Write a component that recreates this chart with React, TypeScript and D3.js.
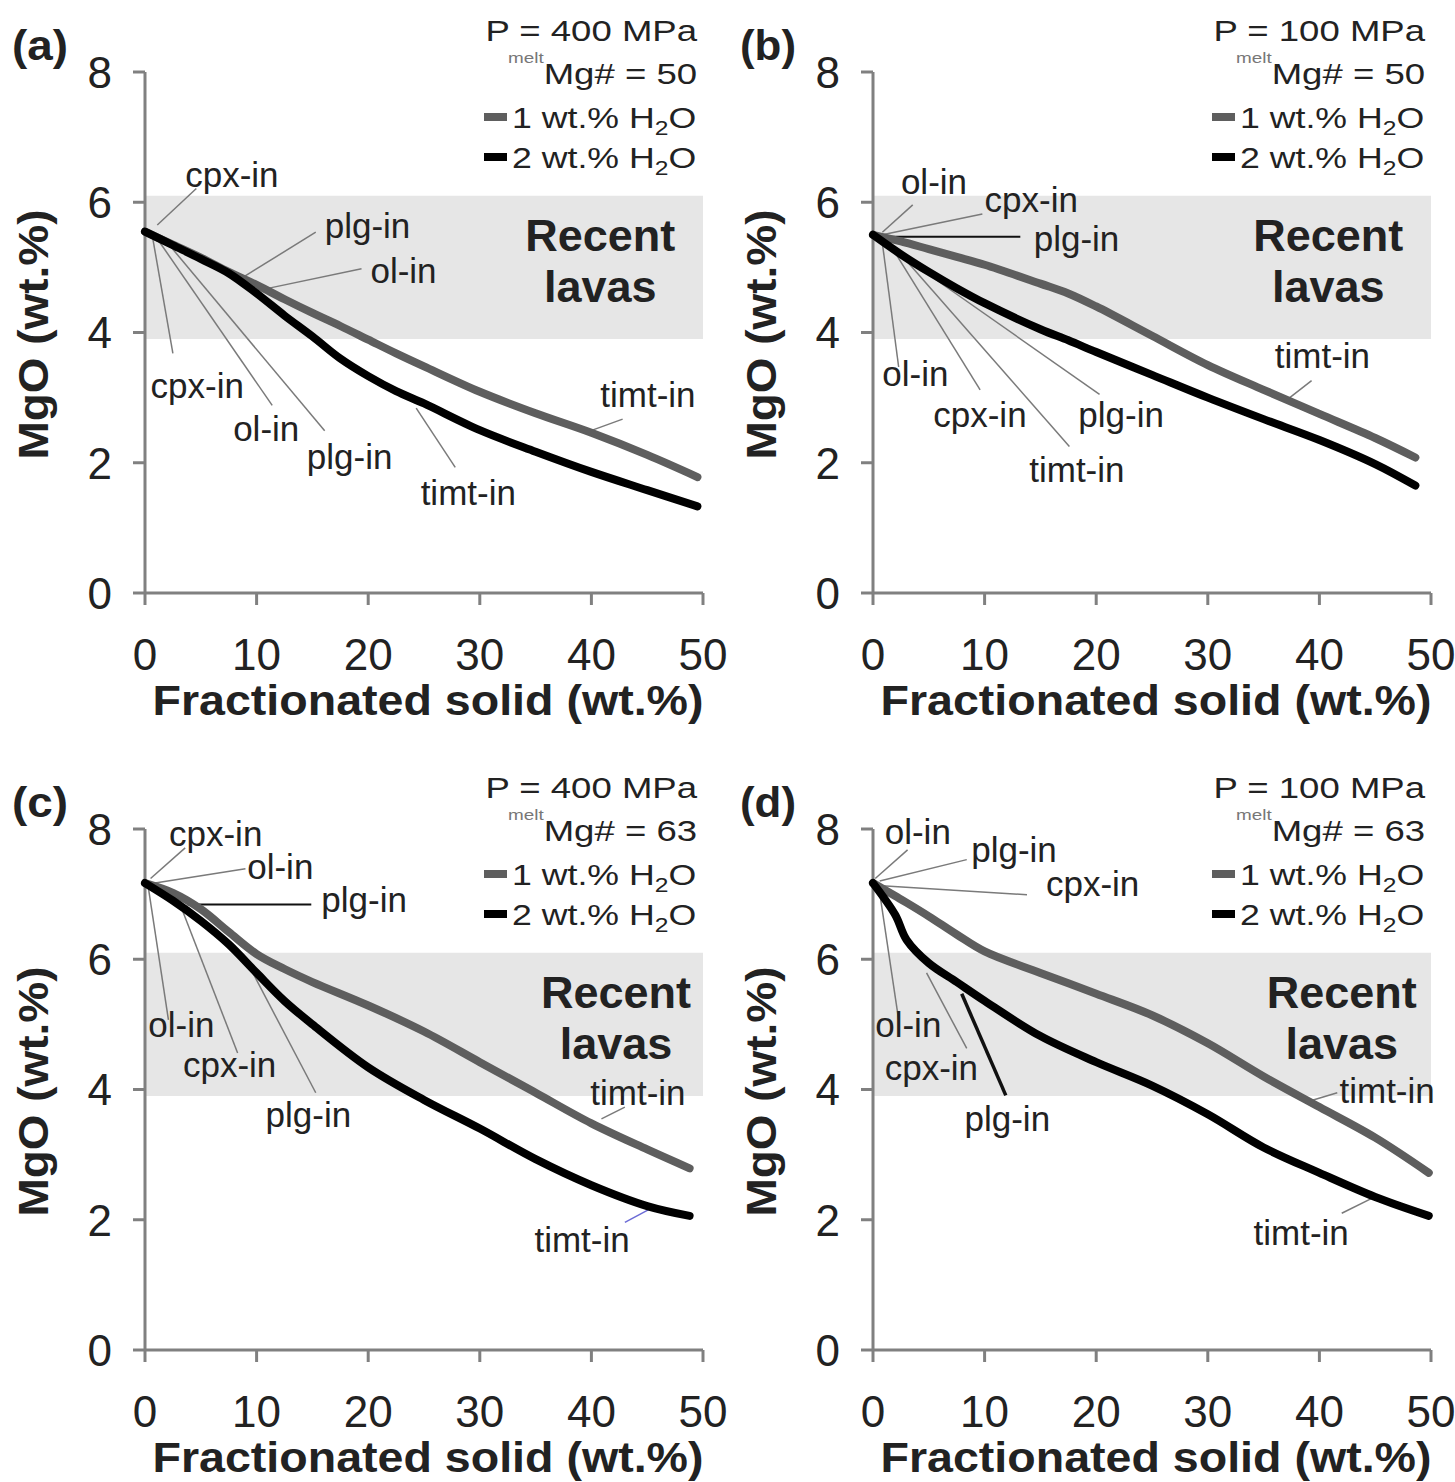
import React from "react";
import * as d3 from "d3";

// MgO (wt.%) vs fractionated solid (wt.%)
const xA = [0, 2.5, 5, 7.5, 10, 12.5, 15, 17.5, 20, 22.5, 25, 30, 35, 40, 45, 49.5];
const grayA = [5.55, 5.35, 5.15, 4.93, 4.73, 4.51, 4.3, 4.1, 3.89, 3.68, 3.48, 3.09, 2.76, 2.46, 2.12, 1.78];
const blackA = [5.55, 5.34, 5.13, 4.91, 4.6, 4.26, 3.94, 3.6, 3.33, 3.1, 2.91, 2.5, 2.17, 1.86, 1.58, 1.33];

const xB = [0, 2.5, 5, 7.5, 10, 15, 17.5, 20, 25, 30, 35, 40, 45, 48.6];
const grayB = [5.5, 5.4, 5.28, 5.16, 5.04, 4.75, 4.6, 4.4, 3.95, 3.5, 3.12, 2.75, 2.38, 2.08];
const blackB = [5.5, 5.2, 4.93, 4.68, 4.45, 4.05, 3.88, 3.7, 3.35, 3.0, 2.67, 2.35, 1.98, 1.65];

const xC = [0, 2.5, 5, 7.5, 10, 12.5, 15, 20, 25, 30, 35, 40, 45, 48.8];
const grayC = [7.17, 7.02, 6.77, 6.42, 6.08, 5.85, 5.65, 5.29, 4.89, 4.42, 3.95, 3.48, 3.08, 2.79];
const blackC = [7.17, 6.9, 6.59, 6.23, 5.79, 5.36, 5.0, 4.34, 3.84, 3.4, 2.93, 2.53, 2.21, 2.06];

const xD = [0, 2, 3, 5, 7.5, 10, 15, 20, 25, 30, 35, 40, 45, 49.8];
const grayD = [7.17, 6.97, 6.87, 6.66, 6.38, 6.12, 5.79, 5.47, 5.14, 4.71, 4.2, 3.73, 3.26, 2.72];
const blackD = [7.17, 6.68, 6.3, 5.94, 5.65, 5.36, 4.82, 4.42, 4.06, 3.62, 3.11, 2.72, 2.35, 2.06];

const xTicks = [0, 10, 20, 30, 40, 50];
const yTicks = [0, 2, 4, 6, 8];
const panelIds = ["(a)", "(b)", "(c)", "(d)"];
const pressures = ["400", "100", "400", "100"];
const mgNumbers = ["50", "50", "63", "63"];
const lavaBand = [3.9, 6.1];
const lavaX = [40.8, 40.8, 42.2, 42];

// phase-in labels: text position and leader line, in data units
const notesA = [
  { t: "cpx-in", tx: 3.6, ty: 6.42, x1: 1.1, y1: 5.65, x2: 4.6, y2: 6.21, k: "g" },
  { t: "plg-in", tx: 16.1, ty: 5.65, x1: 8.7, y1: 4.84, x2: 15.3, y2: 5.54, k: "g" },
  { t: "ol-in", tx: 20.2, ty: 4.95, x1: 10.8, y1: 4.67, x2: 19.4, y2: 4.98, k: "g" },
  { t: "timt-in", tx: 40.8, ty: 3.05, x1: 39.9, y1: 2.49, x2: 42.8, y2: 2.67, k: "g" },
  { t: "cpx-in", tx: 0.5, ty: 3.19, x1: 0.7, y1: 5.44, x2: 2.5, y2: 3.68, k: "g" },
  { t: "ol-in", tx: 7.9, ty: 2.53, x1: 1.1, y1: 5.44, x2: 11.4, y2: 2.88, k: "g" },
  { t: "plg-in", tx: 14.5, ty: 2.1, x1: 1.9, y1: 5.4, x2: 16.1, y2: 2.49, k: "g" },
  { t: "timt-in", tx: 24.7, ty: 1.54, x1: 24.3, y1: 2.84, x2: 27.8, y2: 1.93, k: "g" },
];
const notesB = [
  { t: "ol-in", tx: 2.5, ty: 6.32, x1: 0.84, y1: 5.54, x2: 3.56, y2: 5.96, k: "g" },
  { t: "cpx-in", tx: 10.0, ty: 6.04, x1: 0.84, y1: 5.5, x2: 9.8, y2: 5.82, k: "g" },
  { t: "plg-in", tx: 14.4, ty: 5.44, x1: 1.05, y1: 5.47, x2: 13.2, y2: 5.47, k: "b" },
  { t: "timt-in", tx: 36, ty: 3.65, x1: 37.2, y1: 2.98, x2: 39.3, y2: 3.26, k: "g" },
  { t: "ol-in", tx: 0.84, ty: 3.37, x1: 0.84, y1: 5.37, x2: 2.3, y2: 3.47, k: "g" },
  { t: "cpx-in", tx: 5.4, ty: 2.74, x1: 1.46, y1: 5.37, x2: 9.6, y2: 3.12, k: "g" },
  { t: "plg-in", tx: 18.4, ty: 2.74, x1: 5.65, y1: 4.81, x2: 20.3, y2: 3.05, k: "g" },
  { t: "timt-in", tx: 14.0, ty: 1.9, x1: 2.7, y1: 5.16, x2: 17.6, y2: 2.25, k: "g" },
];
const notesC = [
  { t: "cpx-in", tx: 2.15, ty: 7.93, x1: 0.5, y1: 7.24, x2: 3.6, y2: 7.71, k: "g" },
  { t: "ol-in", tx: 9.16, ty: 7.42, x1: 0.9, y1: 7.17, x2: 9.0, y2: 7.39, k: "g" },
  { t: "plg-in", tx: 15.8, ty: 6.92, x1: 3.8, y1: 6.84, x2: 14.9, y2: 6.84, k: "b" },
  { t: "ol-in", tx: 0.3, ty: 5.0, x1: 0.3, y1: 7.1, x2: 2.1, y2: 5.07, k: "g" },
  { t: "cpx-in", tx: 3.4, ty: 4.38, x1: 3.4, y1: 6.73, x2: 8.3, y2: 4.56, k: "g" },
  { t: "plg-in", tx: 10.8, ty: 3.62, x1: 9.2, y1: 5.94, x2: 15.3, y2: 3.95, k: "g" },
  { t: "timt-in", tx: 39.9, ty: 3.95, x1: 40.9, y1: 3.55, x2: 43.0, y2: 3.73, k: "g" },
  { t: "timt-in", tx: 34.9, ty: 1.7, x1: 43, y1: 1.96, x2: 45.3, y2: 2.17, k: "u" },
];
const notesD = [
  { t: "ol-in", tx: 1.05, ty: 7.97, x1: 0.2, y1: 7.24, x2: 3.1, y2: 7.68, k: "g" },
  { t: "plg-in", tx: 8.8, ty: 7.68, x1: 0.6, y1: 7.2, x2: 8.4, y2: 7.53, k: "g" },
  { t: "cpx-in", tx: 15.5, ty: 7.17, x1: 0.8, y1: 7.13, x2: 13.8, y2: 6.99, k: "g" },
  { t: "ol-in", tx: 0.2, ty: 5.0, x1: 0.6, y1: 7.02, x2: 2.3, y2: 5.07, k: "g" },
  { t: "cpx-in", tx: 1.05, ty: 4.34, x1: 4.8, y1: 5.79, x2: 8.4, y2: 4.63, k: "g" },
  { t: "plg-in", tx: 8.2, ty: 3.55, x1: 7.95, y1: 5.47, x2: 11.9, y2: 3.91, k: "t" },
  { t: "timt-in", tx: 41.8, ty: 3.98, x1: 38.7, y1: 3.8, x2: 41.6, y2: 3.95, k: "g" },
  { t: "timt-in", tx: 34.1, ty: 1.81, x1: 42, y1: 2.1, x2: 44.6, y2: 2.32, k: "g" },
];

const FONT = "'Liberation Sans', Arial, Helvetica, sans-serif";
const GRAY = "#5e5e5e";
const AXIS = "#808080";
const leaderStyle = {
  g: { stroke: "#7a7a7a", w: 1.5 },
  b: { stroke: "#111", w: 2 },
  t: { stroke: "#111", w: 3.5 },
  u: { stroke: "#6b6bd6", w: 1.5 },
};

const panels = [
  { left: 145, top: 72, x: xA, gray: grayA, black: blackA, notes: notesA },
  { left: 873, top: 72, x: xB, gray: grayB, black: blackB, notes: notesB },
  { left: 145, top: 829, x: xC, gray: grayC, black: blackC, notes: notesC },
  { left: 873, top: 829, x: xD, gray: grayD, black: blackD, notes: notesD },
];

const W = 558;
const H = 521;

function Panel({ p, i }) {
  const x = d3.scaleLinear().domain([0, 50]).range([p.left, p.left + W]);
  const y = d3.scaleLinear().domain([0, 8]).range([p.top + H, p.top]);
  const bottom = y(0);
  const right = x(50);
  const line = d3
    .line<number>()
    .x((_, j) => x(p.x[j]))
    .curve(d3.curveCatmullRom.alpha(0.5));
  const grayPath = line.y((d) => y(d))(p.gray);
  const blackPath = line.y((d) => y(d))(p.black);
  const R = right - 6;
  const T = p.top;
  return (
    <g>
      <rect
        x={x(0)}
        y={y(lavaBand[1])}
        width={x(50) - x(0)}
        height={y(lavaBand[0]) - y(lavaBand[1])}
        fill="#e6e6e6"
      />
      {/* axes */}
      <g stroke={AXIS} strokeWidth={3} fill="none">
        <line x1={x(0)} x2={x(0)} y1={T} y2={bottom} />
        <line x1={x(0)} x2={right} y1={bottom} y2={bottom} />
        {yTicks.map((t) => (
          <line key={"yt" + t} x1={x(0) - 12} x2={x(0)} y1={y(t)} y2={y(t)} />
        ))}
        {xTicks.map((t) => (
          <line key={"xt" + t} x1={x(t)} x2={x(t)} y1={bottom} y2={bottom + 12} />
        ))}
      </g>
      {yTicks.map((t) => (
        <text
          key={"yl" + t}
          x={x(0) - 33}
          y={y(t)}
          dy="0.36em"
          textAnchor="end"
          fontSize={44}
          fill="#222"
        >
          {t}
        </text>
      ))}
      {xTicks.map((t) => (
        <text
          key={"xl" + t}
          x={x(t)}
          y={bottom + 77}
          textAnchor="middle"
          fontSize={44}
          fill="#222"
        >
          {t}
        </text>
      ))}
      <text
        x={(x(0) + right) / 2 + 4}
        y={bottom + 122}
        textAnchor="middle"
        fontSize={42}
        fontWeight="bold"
        fill="#222"
        textLength={551}
        lengthAdjust="spacingAndGlyphs"
      >
        Fractionated solid (wt.%)
      </text>
      <text
        transform={`translate(${x(0) - 97},${(T + bottom) / 2 + 2}) rotate(-90)`}
        textAnchor="middle"
        fontSize={42}
        fontWeight="bold"
        fill="#222"
        textLength={250}
        lengthAdjust="spacingAndGlyphs"
      >
        MgO (wt.%)
      </text>
      <text
        x={x(0) - 133}
        y={T - 12}
        fontSize={42}
        fontWeight="bold"
        fill="#222"
        textLength={56}
        lengthAdjust="spacingAndGlyphs"
      >
        {panelIds[i]}
      </text>
      {/* Recent lavas */}
      {["Recent", "lavas"].map((s, j) => (
        <text
          key={s}
          x={x(lavaX[i])}
          y={y(j === 0 ? 5.5 : 4.72)}
          dy="0.36em"
          textAnchor="middle"
          fontSize={45}
          fontWeight="bold"
          fill="#222"
        >
          {s}
        </text>
      ))}
      {/* leaders and phase labels */}
      {p.notes.map((n, j) => (
        <g key={"n" + j}>
          <line
            x1={x(n.x1)}
            y1={y(n.y1)}
            x2={x(n.x2)}
            y2={y(n.y2)}
            stroke={leaderStyle[n.k].stroke}
            strokeWidth={leaderStyle[n.k].w}
          />
          <text x={x(n.tx)} y={y(n.ty)} dy="0.36em" fontSize={35} fill="#222">
            {n.t}
          </text>
        </g>
      ))}
      {/* model curves */}
      <path d={grayPath} fill="none" stroke={GRAY} strokeWidth={8} strokeLinejoin="round" strokeLinecap="round" />
      <path d={blackPath} fill="none" stroke="#000" strokeWidth={8} strokeLinejoin="round" strokeLinecap="round" />
      {/* legend block */}
      <g fill="#222" fontSize={29}>
        <text transform={`translate(${R},${T - 31}) scale(1.26,1)`} textAnchor="end">
          P = {pressures[i]} MPa
        </text>
        <text transform={`translate(${R},${T + 12}) scale(1.26,1)`} textAnchor="end">
          <tspan fontSize={15} fill="#777" dy={-21}>
            melt
          </tspan>
          <tspan dy={21}>Mg# = {mgNumbers[i]}</tspan>
        </text>
        {[GRAY, "#000"].map((c, j) => (
          <g key={c}>
            <line
              x1={R - 213}
              x2={R - 190}
              y1={T + 45 + j * 40}
              y2={T + 45 + j * 40}
              stroke={c}
              strokeWidth={8}
            />
            <text transform={`translate(${R - 185},${T + 56 + j * 40}) scale(1.23,1)`}>
              {j + 1} wt.% H
              <tspan fontSize={20} dy={7}>
                2
              </tspan>
              <tspan dy={-7}>O</tspan>
            </text>
          </g>
        ))}
      </g>
    </g>
  );
}

export default function App() {
  return (
    <div style={{ position: "absolute", left: 0, top: 0 }}>
      <svg width={1455} height={1482} fontFamily={FONT} style={{ display: "block", background: "#fff" }}>
        {panels.map((p, i) => (
          <Panel key={i} p={p} i={i} />
        ))}
      </svg>
    </div>
  );
}
